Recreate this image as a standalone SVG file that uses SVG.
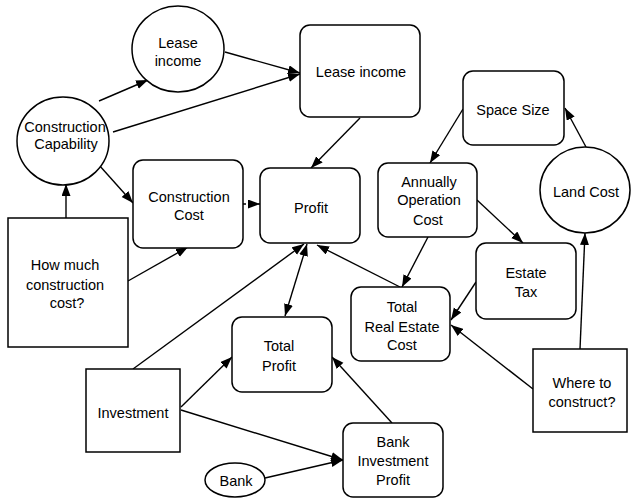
<svg xmlns="http://www.w3.org/2000/svg" width="631" height="500" viewBox="0 0 631 500">
<style>
.n{fill:#fff;stroke:#000;stroke-width:1.5}
.t{font-family:"Liberation Sans",Arial,sans-serif;font-size:14.5px;text-anchor:middle;fill:#000}
.c{fill:none;stroke:#000;stroke-width:1.4;marker-end:url(#ah)}
</style>
<defs>
<marker id="ah" markerUnits="userSpaceOnUse" markerWidth="13" markerHeight="10" refX="12" refY="4.5" orient="auto-start-reverse">
<path d="M0,0 L12,4.5 L0,9 z" fill="#000"/>
</marker>
</defs>
<rect width="631" height="500" fill="#fff"/>
<g id="connectors">
<line class="c" x1="99" y1="101" x2="148" y2="80"/>
<line class="c" x1="225" y1="52" x2="300" y2="73"/>
<line class="c" x1="113" y1="132" x2="300" y2="74"/>
<line class="c" x1="99" y1="165" x2="133" y2="203"/>
<line class="c" x1="66" y1="218" x2="66" y2="184"/>
<line class="c" x1="128" y1="281" x2="188" y2="247"/>
<line class="c" x1="243" y1="204" x2="260" y2="204" stroke-dasharray="3,2"/>
<line class="c" x1="360" y1="118" x2="311" y2="168"/>
<line class="c" x1="285" y1="316" x2="307" y2="244" marker-start="url(#ah)"/>
<line class="c" x1="133" y1="369" x2="304" y2="244"/>
<line class="c" x1="400" y1="287" x2="317" y2="245"/>
<line class="c" x1="181" y1="407" x2="232" y2="357"/>
<line class="c" x1="181" y1="410" x2="343" y2="460"/>
<line class="c" x1="265" y1="478" x2="343" y2="460"/>
<line class="c" x1="392" y1="423" x2="332" y2="357"/>
<line class="c" x1="463" y1="109" x2="430" y2="163"/>
<line class="c" x1="586" y1="147" x2="565" y2="108"/>
<line class="c" x1="477" y1="200" x2="523" y2="243"/>
<line class="c" x1="428" y1="237" x2="402" y2="287"/>
<line class="c" x1="476" y1="282" x2="451" y2="320"/>
<line class="c" x1="533" y1="389" x2="451" y2="325"/>
<line class="c" x1="580" y1="349" x2="585" y2="233"/>
</g>
<g id="lease-income-circle"><ellipse class="n" cx="178" cy="49" rx="46" ry="43"/><text class="t" x="178" y="48">Lease</text><text class="t" x="178" y="66">income</text></g>
<g id="construction-capability"><ellipse class="n" cx="63" cy="141" rx="46" ry="44"/><text class="t" x="65" y="132">Construction</text><text class="t" x="66" y="149">Capability</text></g>
<g id="lease-income-box"><rect class="n" x="300" y="25" width="120" height="92" rx="10"/><text class="t" x="361" y="77">Lease income</text></g>
<g id="construction-cost"><rect class="n" x="133" y="160" width="110" height="88" rx="10"/><text class="t" x="189" y="202">Construction</text><text class="t" x="189" y="220">Cost</text></g>
<g id="profit"><rect class="n" x="260" y="168" width="100" height="75" rx="10"/><text class="t" x="311" y="213">Profit</text></g>
<g id="how-much"><rect class="n" x="8" y="218" width="120" height="129"/><text class="t" x="65" y="270">How much</text><text class="t" x="65" y="290">construction</text><text class="t" x="67" y="308">cost?</text></g>
<g id="total-profit"><rect class="n" x="232" y="317" width="100" height="75" rx="10"/><text class="t" x="279" y="351">Total</text><text class="t" x="279" y="371">Profit</text></g>
<g id="investment"><rect class="n" x="86" y="369" width="94" height="83"/><text class="t" x="133" y="418">Investment</text></g>
<g id="bank"><ellipse class="n" cx="235" cy="480" rx="30" ry="17"/><text class="t" x="236" y="486">Bank</text></g>
<g id="bank-investment-profit"><rect class="n" x="343" y="423" width="100" height="74" rx="10"/><text class="t" x="393" y="447">Bank</text><text class="t" x="393" y="466">Investment</text><text class="t" x="393" y="485">Profit</text></g>
<g id="total-real-estate-cost"><rect class="n" x="351" y="287" width="99" height="74" rx="10"/><text class="t" x="402" y="312">Total</text><text class="t" x="402" y="332">Real Estate</text><text class="t" x="402" y="350">Cost</text></g>
<g id="estate-tax"><rect class="n" x="476" y="243" width="100" height="76" rx="10"/><text class="t" x="526" y="278">Estate</text><text class="t" x="526" y="297">Tax</text></g>
<g id="where-to-construct"><rect class="n" x="533" y="349" width="94" height="83"/><text class="t" x="582" y="388">Where to</text><text class="t" x="582" y="407">construct?</text></g>
<g id="space-size"><rect class="n" x="463" y="71" width="101" height="74" rx="10"/><text class="t" x="513" y="115">Space Size</text></g>
<g id="annually-operation-cost"><rect class="n" x="378" y="163" width="99" height="74" rx="10"/><text class="t" x="429" y="187">Annually</text><text class="t" x="429" y="205">Operation</text><text class="t" x="428" y="225">Cost</text></g>
<g id="land-cost"><ellipse class="n" cx="585" cy="190" rx="45" ry="43"/><text class="t" x="586" y="197">Land Cost</text></g>
</svg>
